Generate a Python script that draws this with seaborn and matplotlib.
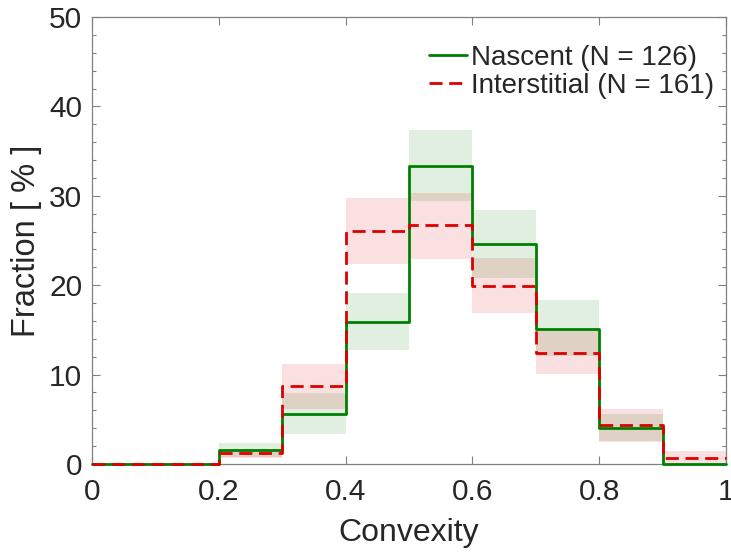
import numpy as np
import pandas as pd
import seaborn as sns
import matplotlib.pyplot as plt
from matplotlib.ticker import MultipleLocator

# Histogram bin edges (left edges) and per-bin fractions in percent
bin_left = [0.0, 0.1, 0.2, 0.3, 0.4, 0.5, 0.6, 0.7, 0.8, 0.9]
bin_right_edge = 1.0

nascent = [0, 0, 1.59, 5.56, 15.87, 33.33, 24.60, 15.08, 3.97, 0]
nascent_lo = [0, 0, 0.75, 3.3, 12.7, 29.4, 20.8, 12.1, 2.6, 0]
nascent_hi = [0, 0, 2.4, 7.9, 19.1, 37.4, 28.4, 18.3, 5.6, 0]

interstitial = [0, 0, 1.24, 8.70, 26.09, 26.71, 19.88, 12.42, 4.35, 0.62]
interstitial_lo = [0, 0, 0.7, 6.2, 22.4, 22.9, 16.9, 10.1, 2.5, 0]
interstitial_hi = [0, 0, 1.7, 11.2, 29.8, 30.3, 23.0, 15.1, 6.2, 1.4]

labels = ["Nascent (N = 126)", "Interstitial (N = 161)"]

green = "#008000"
red = "#dc0000"

sns.set_theme(style="ticks")
plt.rcParams["font.family"] = ["Liberation Sans", "DejaVu Sans"]

fig = plt.figure(figsize=(7.31, 5.56), dpi=100)
ax = fig.add_axes([0.1259, 0.1655, 0.8673, 0.8039])


def closed(vals):
    return list(vals) + [vals[-1]]


edges = bin_left + [bin_right_edge]

# Uncertainty bands
ax.fill_between(edges, closed(nascent_lo), closed(nascent_hi), step="post",
                color=green, alpha=0.12, linewidth=0)
ax.fill_between(edges, closed(interstitial_lo), closed(interstitial_hi), step="post",
                color=red, alpha=0.12, linewidth=0)

df_n = pd.DataFrame({"x": edges, "y": closed(nascent)})
df_i = pd.DataFrame({"x": edges, "y": closed(interstitial)})

sns.lineplot(data=df_n, x="x", y="y", ax=ax, drawstyle="steps-post",
             color=green, linewidth=2.0, label=labels[0], clip_on=False, zorder=3)
sns.lineplot(data=df_i, x="x", y="y", ax=ax, drawstyle="steps-post",
             color=red, linewidth=2.0, linestyle=(0, (4.7, 2.4)), label=labels[1],
             clip_on=False, zorder=4)

ax.set_xlim(0, 1)
ax.set_ylim(0, 50)
ax.set_xticks([0, 0.2, 0.4, 0.6, 0.8, 1.0])
ax.set_xticklabels(["0", "0.2", "0.4", "0.6", "0.8", "1"])
ax.set_yticks([0, 10, 20, 30, 40, 50])
ax.yaxis.set_minor_locator(MultipleLocator(2))

ax.set_xlabel("Convexity", fontsize=23, color="#262626", labelpad=9)
ax.set_ylabel("Fraction [ % ]", fontsize=23.5, color="#262626", labelpad=5)

ax.tick_params(axis="both", which="both", direction="in", top=True, right=True,
               colors="#808080", labelcolor="#262626", labelsize=21.5)
ax.tick_params(which="major", length=6, width=0.8)
ax.tick_params(which="minor", length=3, width=0.8)
ax.tick_params(axis="x", pad=10)
ax.tick_params(axis="y", pad=7)
for s in ax.spines.values():
    s.set_color("#808080")
    s.set_linewidth(0.9)
    s.set_visible(True)
    s.set_zorder(2)

leg = ax.legend(loc="upper right", bbox_to_anchor=(0.981, 0.937), frameon=False,
                fontsize=20, handlelength=1.37, handletextpad=0.15,
                borderaxespad=0, borderpad=0, labelspacing=0.05)

fig.savefig("out.png", dpi=100)
